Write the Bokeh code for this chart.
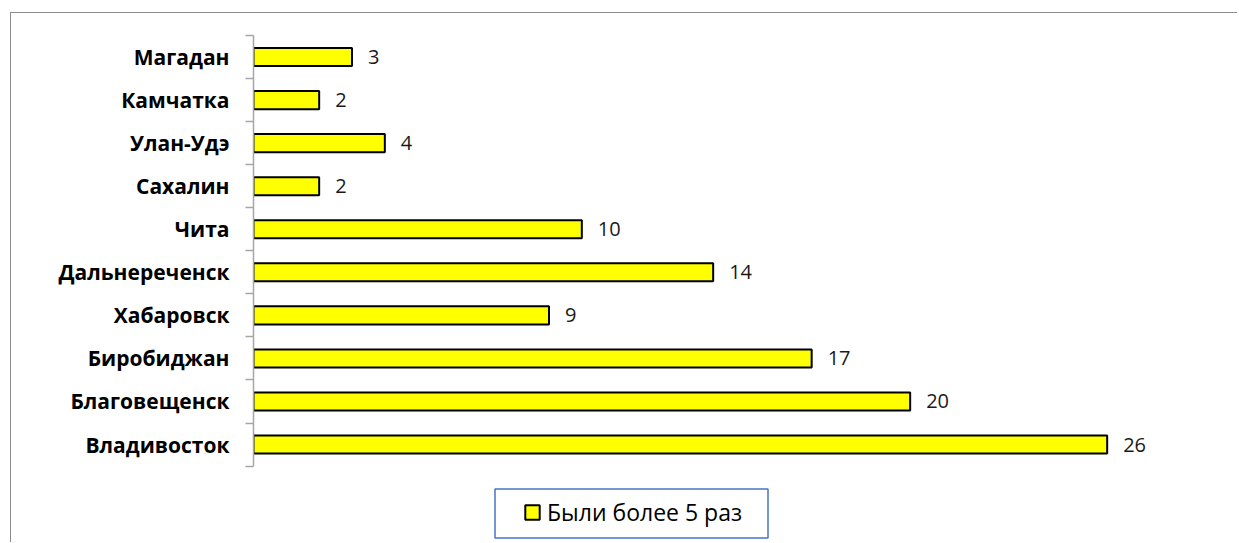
import numpy as np
from bokeh.plotting import figure
from bokeh.models import (Range1d, FixedTicker, ColumnDataSource, Legend, LegendItem,
                          BoxAnnotation)
from bokeh.core.properties import value
from bokeh.embed import file_html
from bokeh.resources import INLINE

categories = ["Магадан", "Камчатка", "Улан-Удэ", "Сахалин", "Чита",
              "Дальнереченск", "Хабаровск", "Биробиджан", "Благовещенск", "Владивосток"]
values = [3, 2, 4, 2, 10, 14, 9, 17, 20, 26]
series_name = "Были более 5 раз"

n = len(categories)
ypos = [n - 0.5 - i for i in range(n)]
src = ColumnDataSource(dict(y=ypos, v=values, lbl=[str(v) for v in values]))

# layout (page pixels)
OX, OY = 10, 12          # chart border offset
BW = 1.5                 # border width
CX, CY = OX + BW, OY + BW
W, H = 1239 - 12, 543 - 13
frame_left = 254 - CX
frame_top = 35 - CY
cat_px = 43.1
y_zero = frame_top + n * cat_px
y_start = -(H - y_zero) / cat_px
frame_bottom_page = CY + H

p = figure(width=int(W), height=int(H), output_backend="svg", toolbar_location=None,
           x_range=Range1d(0, 30), y_range=Range1d(y_start, n),
           min_border_left=int(round(frame_left)), min_border_right=0,
           min_border_top=int(round(frame_top)), min_border_bottom=0,
           styles={"margin-left": f"{OX}px", "margin-top": f"{OY}px",
                   "border-left": f"{BW}px solid #8C8C8C",
                   "border-top": f"{BW}px solid #8C8C8C"})
p.outline_line_color = None
p.xgrid.visible = False
p.ygrid.visible = False
p.xaxis.visible = False

bars = p.hbar(y="y", left=0, right="v", height=0.42, source=src,
              fill_color="#FFFF00", line_color="black", line_width=2)
p.text(x="v", y="y", text="lbl", source=src, x_offset=16, text_align="left",
       text_baseline="middle", text_font=value("Open Sans"), text_font_size="20px",
       text_color="#1a1a1a")

ax = p.yaxis[0]
ax.bounds = (0, n)
ax.ticker = FixedTicker(ticks=ypos, minor_ticks=list(range(n + 1)))
ax.major_label_overrides = {y: c for y, c in zip(ypos, categories)}
ax.major_tick_out = 0
ax.major_tick_in = 0
ax.minor_tick_out = 8
ax.minor_tick_in = 0
ax.axis_line_color = "#A6A6A6"
ax.minor_tick_line_color = "#A6A6A6"
ax.axis_line_width = 1.5
ax.minor_tick_line_width = 1.5
ax.major_label_standoff = 16
ax.major_label_text_font = "Open Sans"
ax.major_label_text_font_style = "bold"
ax.major_label_text_font_size = "21px"
ax.major_label_text_color = "black"

# legend box (canvas pixels)
p.add_layout(BoxAnnotation(left=494 - CX, right=767 - CX, top=488 - CY, bottom=537 - CY,
                           left_units="canvas", right_units="canvas",
                           top_units="canvas", bottom_units="canvas",
                           fill_color=None, line_color="#4674C6", line_alpha=1.0,
                           line_width=1.5))

leg_h = 28
legend = Legend(items=[LegendItem(label=series_name, renderers=[bars])],
                location=(524 - 254, frame_bottom_page - (514 + leg_h / 2)),
                border_line_color=None, background_fill_alpha=0,
                padding=0, margin=0, glyph_width=18, glyph_height=18, label_height=leg_h,
                label_standoff=6, label_text_font="Open Sans", label_text_font_size="23px",
                label_text_color="black")
p.add_layout(legend, "center")

open("out.html", "w").write(file_html(p, INLINE))
